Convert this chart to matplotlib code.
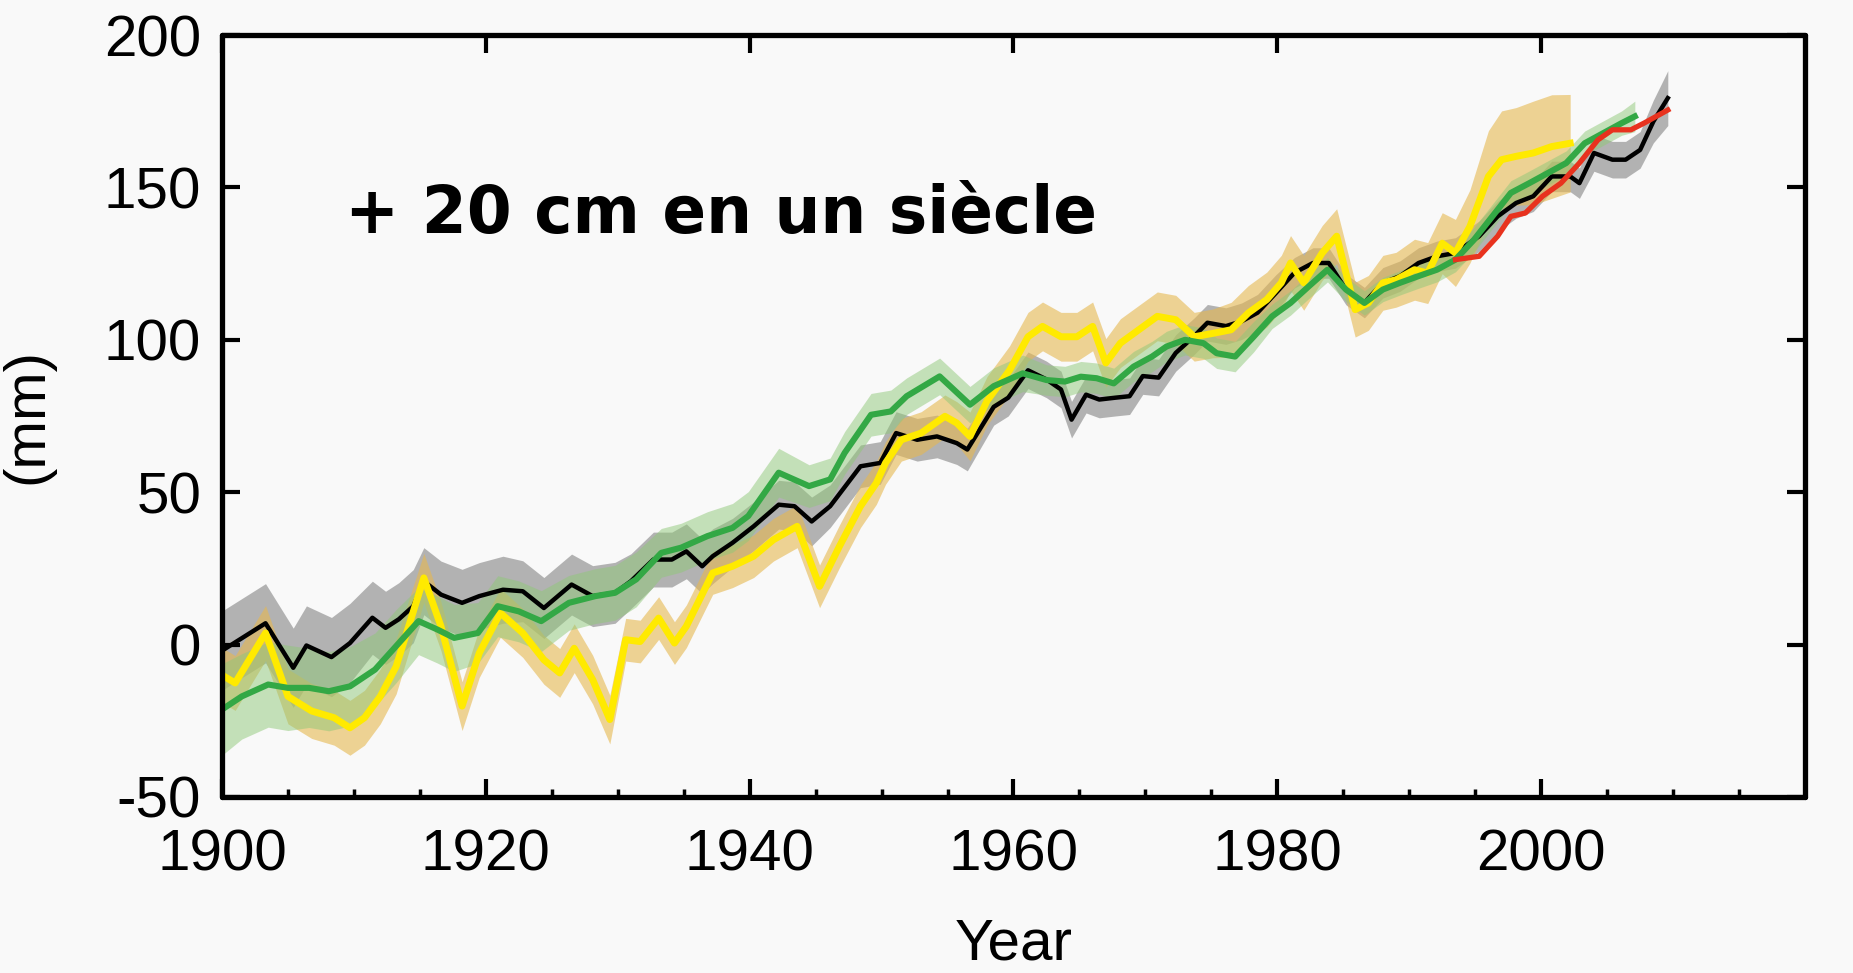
import numpy as np
import matplotlib
matplotlib.use("Agg")
import matplotlib.pyplot as plt
from matplotlib.ticker import MultipleLocator

# Global mean sea level reconstructions (mm)
black_years = [1900, 1903.3, 1905.4, 1906.4, 1908.3, 1909.7, 1911.4, 1912.4, 1913.4, 1914.5,
               1915.3, 1916.6, 1918.2, 1919.5, 1921.3, 1922.8, 1924.4, 1926.5, 1928.1, 1929.8,
               1931.0, 1932.7, 1934.1, 1935.2, 1936.4, 1937.2, 1938.7, 1940.3, 1942.2, 1943.4,
               1944.7, 1946.1, 1948.4, 1949.9, 1951.1, 1952.7, 1954.2, 1955.7, 1956.5, 1958.5,
               1959.6, 1961.1, 1962.5, 1963.6, 1964.4, 1965.5, 1966.5, 1967.7, 1968.8, 1969.8,
               1971.0, 1972.3, 1973.7, 1974.7, 1976.1, 1977.3, 1978.5, 1979.9, 1981.3, 1982.7,
               1983.9, 1985.2, 1986.6, 1988.0, 1989.3, 1990.7, 1992.1, 1993.5, 1995.3, 1996.7,
               1998.1, 1999.4, 2000.8, 2002.2, 2002.9, 2004.0, 2005.4, 2006.4, 2007.5, 2008.5,
               2009.6]
black_mm = [-2, 7, -7.6, -0.3, -4.1, 0.5, 8.8, 5.5, 8.3, 12.6,
            20.8, 16.4, 13.7, 15.9, 18, 17.5, 12, 19.7, 15.9, 17,
            20.8, 27.9, 27.9, 30.6, 25.7, 29, 33.4, 38.8, 45.9, 45.4,
            40.4, 45.4, 58.5, 59.6, 69.4, 67.2, 68.3, 66.1, 64, 78,
            81, 90, 87, 83.7, 73.8, 82, 80.4, 81, 81.5, 88.1,
            87.6, 95.7, 101.2, 105.6, 104.5, 106.1, 108.9, 115.4, 122, 125.2,
            125.2, 116.5, 112.2, 118.7, 120.9, 125.2, 127.4, 128.5, 134, 140.5,
            144.9, 147.1, 153.6, 153.6, 151.4, 161.3, 159.1, 159.1, 162.3, 171.6,
            179.3]
black_err = [13, 13, 13, 13, 13, 13, 12, 12, 12, 12,
             11, 11, 11, 11, 11, 10, 10, 10, 10, 10,
             9, 9, 9, 9, 9, 9, 8, 8, 8, 8,
             8, 7, 7, 7, 7, 7, 7, 7, 7, 6,
             6, 6, 6, 6, 6, 6, 6, 6, 6, 6,
             6, 6, 6, 6, 6, 6, 6, 6, 5, 5,
             5, 5, 5, 5, 5, 5, 5, 5, 5, 5,
             5, 5, 5, 5, 5, 6, 6, 6, 6, 7,
             9]

yellow_years = [1900, 1901.0, 1903.3, 1905.0, 1906.8, 1908.5, 1909.7, 1910.8, 1912.0, 1913.2,
                1915.3, 1916.6, 1918.2, 1919.5, 1921.1, 1922.8, 1924.4, 1925.6, 1926.7, 1928.1,
                1929.4, 1930.6, 1931.7, 1933.1, 1934.3, 1935.2, 1937.2, 1938.7, 1940.3, 1941.8,
                1943.6, 1945.3, 1946.8, 1948.4, 1949.6, 1950.3, 1951.5, 1953.0, 1954.8, 1955.7,
                1956.7, 1958.0, 1959.7, 1961.1, 1962.2, 1963.6, 1964.8, 1966.0, 1967.0, 1968.1,
                1969.5, 1970.9, 1972.3, 1973.7, 1975.1, 1976.5, 1977.8, 1979.2, 1980.3, 1981.0,
                1982.0, 1983.4, 1984.5, 1985.9, 1986.9, 1988.0, 1989.0, 1990.4, 1991.4, 1992.5,
                1993.5, 1994.6, 1996.0, 1997.0, 1998.1, 1999.4, 2000.8, 2002.2]
yellow_mm = [-10, -12.6, 3.8, -17, -21.8, -24, -27.3, -24, -17, -7.2,
             21.9, 6, -20.2, -2.8, 10.4, 3.8, -5, -9.3, -1.2, -11.5,
             -24.6, 1.6, 1.0, 8.7, 0.5, 6, 23.5, 25.7, 29, 34.4,
             38.8, 19.1, 32.2, 45.4, 53, 59.6, 67.2, 69.4, 74.9, 72.7,
             68.3, 80, 90, 101, 104.4, 101, 101, 104.4, 92.4, 98.9,
             103.3, 107.7, 106.6, 101, 102.1, 103.3, 108.8, 113.2, 118.7, 125.2,
             118.7, 128.5, 134, 109.9, 112.1, 118.7, 119.7, 123, 121.9, 131.7,
             128.5, 137.2, 153.6, 159.1, 160.2, 161.3, 163.4, 164.5]
yellow_err = [9, 9, 9, 9, 9, 9, 9, 9, 9, 9,
              8, 8, 8, 8, 8, 8, 8, 8, 8, 8,
              8, 7, 7, 7, 7, 7, 7, 7, 7, 7,
              7, 7, 7, 7, 7, 7, 7, 7, 7, 7,
              8, 8, 8, 8, 8, 8, 8, 8, 8, 8,
              8, 8, 8, 8, 8, 9, 9, 9, 9, 9,
              9, 9, 9, 9, 9, 9, 9, 10, 10, 10,
              11, 12, 15, 16, 16, 17, 17, 16]

green_years = [1900, 1901.5, 1903.5, 1905.0, 1906.6, 1908.1, 1909.7, 1911.6, 1913.2, 1914.9,
               1916.3, 1917.6, 1919.4, 1920.9, 1922.5, 1924.2, 1926.3, 1928.3, 1929.8, 1931.4,
               1933.3, 1934.8, 1936.8, 1938.7, 1939.9, 1942.2, 1944.5, 1946.1, 1947.2, 1949.2,
               1950.7, 1951.9, 1954.4, 1956.7, 1958.5, 1960.7, 1962.5, 1963.9, 1965.1, 1966.3,
               1967.6, 1969.1, 1970.5, 1971.6, 1973.0, 1974.4, 1975.4, 1976.8, 1978.2, 1979.6,
               1981.0, 1982.4, 1983.8, 1985.2, 1986.6, 1988.0, 1989.3, 1990.7, 1992.1, 1993.5,
               1994.9, 1996.3, 1997.7, 1999.1, 2000.5, 2001.9, 2003.3, 2004.7, 2006.1, 2007.1]
green_mm = [-21.3, -17, -13.1, -14.2, -14.2, -15.3, -13.7, -8.2, -0.5, 7.7,
            5, 2.2, 3.8, 12.6, 10.9, 7.7, 13.7, 15.9, 17, 21.4,
            30.1, 31.8, 35.6, 38.3, 42.2, 56.4, 52, 54.2, 62.9, 75.4,
            76.5, 81.5, 88, 78.7, 84.8, 89, 86.8, 86.3, 87.9, 87.4,
            85.7, 91.2, 94.5, 97.8, 100, 98.9, 95.6, 94.5, 101, 107.7,
            112.1, 117.6, 123, 116.5, 112.1, 116.5, 118.7, 120.9, 123, 126.3,
            132.8, 140.5, 148.2, 151.4, 154.7, 158, 164.5, 167.8, 171.1, 173.3]
green_err = [15, 14, 14, 14, 13, 13, 13, 12, 12, 11,
             11, 11, 10, 10, 10, 10, 9, 9, 9, 9,
             8, 8, 8, 8, 8, 8, 7, 7, 7, 7,
             7, 6, 6, 6, 6, 6, 5, 5, 5, 5,
             5, 5, 5, 5, 5, 5, 5, 5, 5, 4,
             4, 4, 4, 4, 4, 4, 4, 4, 4, 4,
             4, 4, 4, 4, 4, 4, 4, 4, 4, 5]

red_years = [1993.5, 1995.3, 1996.7, 1997.7, 1998.8, 2000.1, 2001.5, 2002.9, 2004.3, 2005.4,
             2006.8, 2007.8, 2009.6]
red_mm = [126.3, 127.4, 134, 140.5, 141.6, 147.1, 151.4, 158, 165.6, 168.9,
          168.9, 171.1, 175.4]

BG = "#f9f9f9"
plt.rcParams["axes.unicode_minus"] = False
plt.rcParams["font.family"] = ["Liberation Sans", "DejaVu Sans"]

fig = plt.figure(figsize=(18.53, 9.73), dpi=100, facecolor=BG)
ax = fig.add_axes([0.1198, 0.1809, 0.8543, 0.7831], facecolor=BG)


def band(years, vals, err, color, alpha):
    y = np.array(vals)
    e = np.array(err)
    ax.fill_between(years, y - e, y + e, color=color, alpha=alpha, linewidth=0)


band(black_years, black_mm, black_err, "#959595", 0.7)
band(yellow_years, yellow_mm, yellow_err, "#e6b850", 0.6)
band(green_years, green_mm, green_err, "#8fc878", 0.5)

ax.plot(black_years, black_mm, color="black", lw=3.2, solid_joinstyle="round")
ax.plot(yellow_years, yellow_mm, color="#ffea00", lw=5, solid_joinstyle="round")
ax.plot(green_years, green_mm, color="#33a845", lw=4.4, solid_joinstyle="round")
ax.plot(red_years, red_mm, color="#e8321e", lw=3.8, solid_joinstyle="round")

ax.set_xlim(1900, 2020)
ax.set_ylim(-50, 200)
ax.set_xticks(range(1900, 2001, 20))
ax.set_yticks(range(-50, 201, 50))
ax.xaxis.set_minor_locator(MultipleLocator(5))
ax.tick_params(which="major", direction="in", length=13, width=3, labelsize=42,
               top=True, right=True, pad=15)
ax.tick_params(axis="x", which="major", pad=23)
ax.tick_params(which="minor", direction="in", length=6, width=2.5, top=False)
for s in ax.spines.values():
    s.set_linewidth(3.8)
    s.set_capstyle("round")

ax.set_xlabel("Year", fontsize=42)
ax.xaxis.set_label_coords(0.5, -0.158)
ax.set_ylabel("(mm)", fontsize=42)
ax.yaxis.set_label_coords(-0.106, 0.5)

ax.text(0.078, 0.74, "+ 20 cm en un siècle", transform=ax.transAxes,
        fontsize=46.5, fontfamily="DejaVu Sans", fontweight="bold", color="black",
        va="baseline", ha="left")

fig.savefig("out.png", dpi=100, facecolor=BG)
